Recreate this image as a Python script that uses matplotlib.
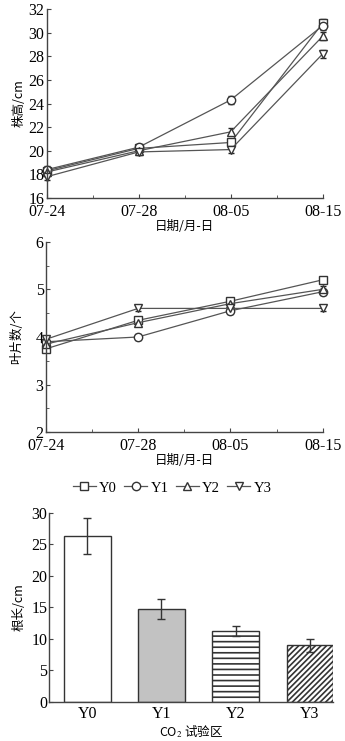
import matplotlib
matplotlib.use("Agg")
import matplotlib.pyplot as plt
from matplotlib.ticker import MultipleLocator
from matplotlib.lines import Line2D
import numpy as np

plt.rcParams['font.family'] = ['Liberation Serif', 'Noto Sans CJK SC', 'DejaVu Sans']
plt.rcParams['hatch.linewidth'] = 1.2
plt.rcParams['mathtext.fontset'] = 'stix'

dates = ['07-24', '07-28', '08-05', '08-15']
series = ['Y0', 'Y1', 'Y2', 'Y3']
markers = ['s', 'o', '^', 'v']

height_Y0 = [18.3, 20.2, 20.7, 30.8]
height_Y1 = [18.4, 20.3, 24.3, 30.6]
height_Y2 = [18.2, 20.0, 21.6, 29.7]
height_Y3 = [17.8, 19.9, 20.1, 28.2]
height_err = [0.3, 0.3, 0.3, 0.35]

leaf_Y0 = [3.75, 4.35, 4.75, 5.2]
leaf_Y1 = [3.9, 4.0, 4.55, 4.95]
leaf_Y2 = [3.85, 4.3, 4.7, 5.0]
leaf_Y3 = [3.95, 4.6, 4.6, 4.6]
leaf_err = [0.06, 0.06, 0.06, 0.06]

root_len = [26.3, 14.8, 11.3, 9.0]
root_err = [2.8, 1.6, 0.8, 1.0]

W, H = 345, 741
fig = plt.figure(figsize=(W / 100, H / 100), dpi=100)

def ax_rect(x0, x1, ytop, ybot):
    return [x0 / W, 1 - ybot / H, (x1 - x0) / W, (ybot - ytop) / H]

cjk = ['Noto Sans CJK SC', 'Liberation Serif']
tick_fs = 11.5
lab_fs = 9
lc = '#555555'

def style(ax):
    for s in ['top', 'right']:
        ax.spines[s].set_visible(False)
    for s in ['left', 'bottom']:
        ax.spines[s].set_color('#444444')
        ax.spines[s].set_linewidth(1.0)
    ax.tick_params(direction='in', labelsize=tick_fs, length=3, color='#444444', pad=1.5)
    ax.tick_params(which='minor', direction='in', length=2, color='#444444')

x = np.arange(len(dates))

# Top: plant height
ax1 = fig.add_axes(ax_rect(46.7, 322.7, 9, 198))
for vals, m in zip([height_Y0, height_Y1, height_Y2, height_Y3], markers):
    ax1.errorbar(x, vals, yerr=height_err, marker=m, ms=6, mfc='white', mec='#333333',
                 color=lc, lw=0.9, ecolor='#222222', capsize=2, elinewidth=1, clip_on=False)
ax1.set_xlim(0, 3)
ax1.set_ylim(16, 32)
ax1.set_xticks(x)
ax1.set_xticklabels(dates)
ax1.xaxis.set_minor_locator(MultipleLocator(0.5))
ax1.set_yticks(np.arange(16, 33, 2))
style(ax1)
ax1.tick_params(axis='x', pad=4)
ax1.set_ylabel('株高/cm', family=cjk, fontsize=lab_fs, labelpad=2)
ax1.set_xlabel('日期/月-日', family=cjk, fontsize=lab_fs, labelpad=0)

# Middle: leaf number
ax2 = fig.add_axes(ax_rect(45.7, 322.7, 241.7, 432.3))
for vals, m, s in zip([leaf_Y0, leaf_Y1, leaf_Y2, leaf_Y3], markers, series):
    ax2.errorbar(x, vals, yerr=leaf_err, marker=m, ms=6, mfc='white', mec='#333333',
                 color=lc, lw=0.9, ecolor='#222222', capsize=2, elinewidth=1,
                 clip_on=False)
ax2.set_xlim(0, 3)
ax2.set_ylim(2, 6)
ax2.set_xticks(x)
ax2.set_xticklabels(dates)
ax2.xaxis.set_minor_locator(MultipleLocator(0.5))
ax2.yaxis.set_minor_locator(MultipleLocator(0.5))
ax2.set_yticks([2, 3, 4, 5, 6])
style(ax2)
ax2.tick_params(axis='x', pad=4)
ax2.set_ylabel('叶片数/个', family=cjk, fontsize=lab_fs, labelpad=9)
ax2.set_xlabel('日期/月-日', family=cjk, fontsize=lab_fs, labelpad=0)

handles = [Line2D([], [], marker=m, ms=6, mfc='white', mec='#333333', color=lc, lw=0.9)
           for m in markers]
fig.legend(handles=handles, labels=series, loc='center', bbox_to_anchor=(172 / W, 1 - 488 / H),
           ncol=4, frameon=False, fontsize=10.5, handlelength=1.6, handletextpad=0.2,
           columnspacing=0.5, borderpad=0)

# Bottom: root length
ax3 = fig.add_axes(ax_rect(49.3, 333, 512.7, 702))
xb = np.arange(len(series))
colors = ['white', '#c2c2c2', 'white', 'white']
hatches = [None, None, '---', '//////']
bars = ax3.bar(xb, root_len, width=0.63, color=colors, edgecolor='#333333', linewidth=1.0,
               yerr=root_err, capsize=3, error_kw=dict(ecolor='#333333', elinewidth=1.0))
for b, h in zip(bars, hatches):
    if h:
        b.set_hatch(h)
ax3.set_xlim(-0.51, 3.31)
ax3.set_ylim(0, 30)
ax3.set_xticks(xb)
ax3.set_xticklabels(series)
ax3.set_yticks(np.arange(0, 31, 5))
style(ax3)
ax3.tick_params(axis='x', length=0, pad=3)
ax3.set_ylabel('根长/cm', family=cjk, fontsize=lab_fs, labelpad=4)
ax3.set_xlabel('CO$_2$ 试验区', family=cjk, fontsize=lab_fs, labelpad=1)

fig.savefig('out.png', dpi=100)
